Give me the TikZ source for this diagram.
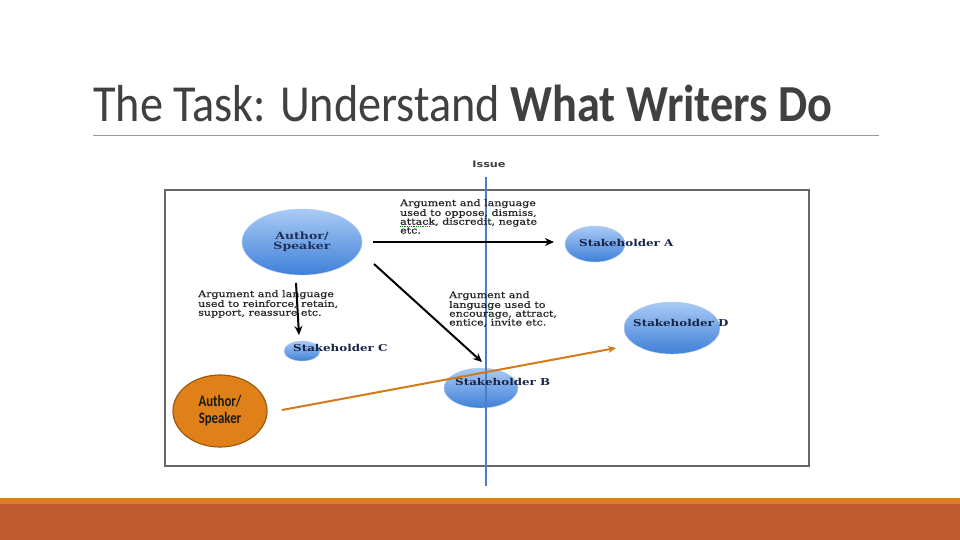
\documentclass[tikz,border=0pt]{standalone}
\usepackage{fontspec}
\setmainfont{Carlito}
\newfontfamily\titlefont[FakeStretch=0.89]{Carlito}
\newfontfamily\ofont[FakeStretch=0.8]{Carlito}
\newfontfamily\dserif[FakeStretch=1.23,FakeBold=0.6]{DejaVu Serif}
\newfontfamily\lserif[FakeStretch=1.25]{DejaVu Serif}
\newfontfamily\dsans[FakeStretch=1.25]{DejaVu Sans}
\usetikzlibrary{arrows.meta,shapes.geometric}
\definecolor{barlight}{HTML}{E08019}
\definecolor{bardark}{HTML}{BE5A2B}
\definecolor{issueblue}{HTML}{4A7EC0}
\definecolor{elltop}{HTML}{A9CBF5}
\definecolor{ellbot}{HTML}{3F80D8}
\definecolor{navy}{HTML}{1F2F5A}
\definecolor{titlegray}{HTML}{404040}
\tikzset{
  blueell/.style={ellipse, top color=elltop, bottom color=ellbot, draw=ellbot!40, line width=0.4pt, inner sep=0pt},
  arg/.style={font=\dserif\fontsize{9}{8.8}\selectfont, text=black!85, align=left, anchor=north west, inner sep=0pt},
  slabel/.style={font=\lserif\bfseries\fontsize{9.5}{11}\selectfont, text=navy!80!black, inner sep=0pt},
  blackarrow/.style={-{Stealth[length=9pt,width=8pt]}, line width=2pt, black},
}
\begin{document}
\begin{tikzpicture}[x=1pt,y=-1pt]
\useasboundingbox (0,0) rectangle (960,540);
\fill[white] (0,0) rectangle (960,540);
% bottom bars
\fill[barlight] (0,498) rectangle (960,504);
\fill[bardark] (0,504) rectangle (960,540);
% title
\node[anchor=base west, inner sep=0pt, text=titlegray, font=\titlefont\fontsize{52}{60}\selectfont] (title) at (93,122) {The Task: Understand \textbf{What Writers Do}};
\draw[gray!80, line width=1pt] (93,136) -- (879,136);
% frame
\draw[black!60, line width=1.5pt] (165,190) rectangle (809,466);
% issue line
\node[font=\dsans\bfseries\fontsize{9}{10}\selectfont, text=black!75, inner sep=0pt] (issue) at (489,164) {Issue};
\coordinate (itop) at (486,177);
\coordinate (ibot) at (486,486);
% ellipses
\node[blueell, minimum width=120, minimum height=66] (author) at (302,242) {};
\node[font=\lserif\bfseries\fontsize{10}{10}\selectfont, text=navy, align=center] at (author) {Author/\\Speaker};
\node[blueell, minimum width=60, minimum height=36] (sa) at (595,244) {};
\node[blueell, minimum width=96, minimum height=52] (sd) at (672,328) {};
\node[blueell, minimum width=36, minimum height=20] (sc) at (302,351) {};
\node[blueell, minimum width=74, minimum height=40] (sb) at (481,388) {};
\draw[issueblue, line width=2.6pt] (itop) -- (ibot);
\node[slabel, anchor=west] (la) at (579,243) {Stakeholder A};
\node[slabel, anchor=west] (ld) at (633,323) {Stakeholder D};
\node[slabel, anchor=west] (lc) at (293,348) {Stakeholder C};
\node[slabel, anchor=west] (lb) at (455,382) {Stakeholder B};
% orange author
\node[ellipse, fill=barlight, draw=barlight!70!black, line width=1.2pt, minimum width=94, minimum height=72, inner sep=0pt, font=\ofont\bfseries\fontsize{16}{17}\selectfont, align=center, text=black!90] (oauthor) at (220,411) {Author/\\Speaker};
% texts
\node[arg] (t1) at (400,199) {Argument and language\\used to oppose, dismiss,\\attack, discredit, negate\\etc.};
\draw[green!50!black, densely dotted, line width=0.8pt] (t1.north west) ++(0,27.5) -- ++(30,0);
\node[arg] (t2) at (198,290) {Argument and language\\used to reinforce, retain,\\support, reassure etc.};
\node[arg] (t3) at (449,291) {Argument and\\language used to\\encourage, attract,\\entice, invite etc.};
% arrows
\coordinate (a1s) at (373,242); \coordinate (a1e) at (554,242);
\draw[blackarrow] (a1s) -- (a1e);
\coordinate (a2s) at (296,283); \coordinate (a2e) at (299,335);
\draw[blackarrow] (a2s) -- (a2e);
\coordinate (a3s) at (374,264); \coordinate (a3e) at (482,362);
\draw[blackarrow] (a3s) -- (a3e);
\coordinate (o1) at (282,410); \coordinate (o2) at (616,348);
\draw[barlight!95!black, line width=2pt, -{Stealth[length=8pt,width=7pt]}] (o1) -- (o2);
\end{tikzpicture}
\end{document}
